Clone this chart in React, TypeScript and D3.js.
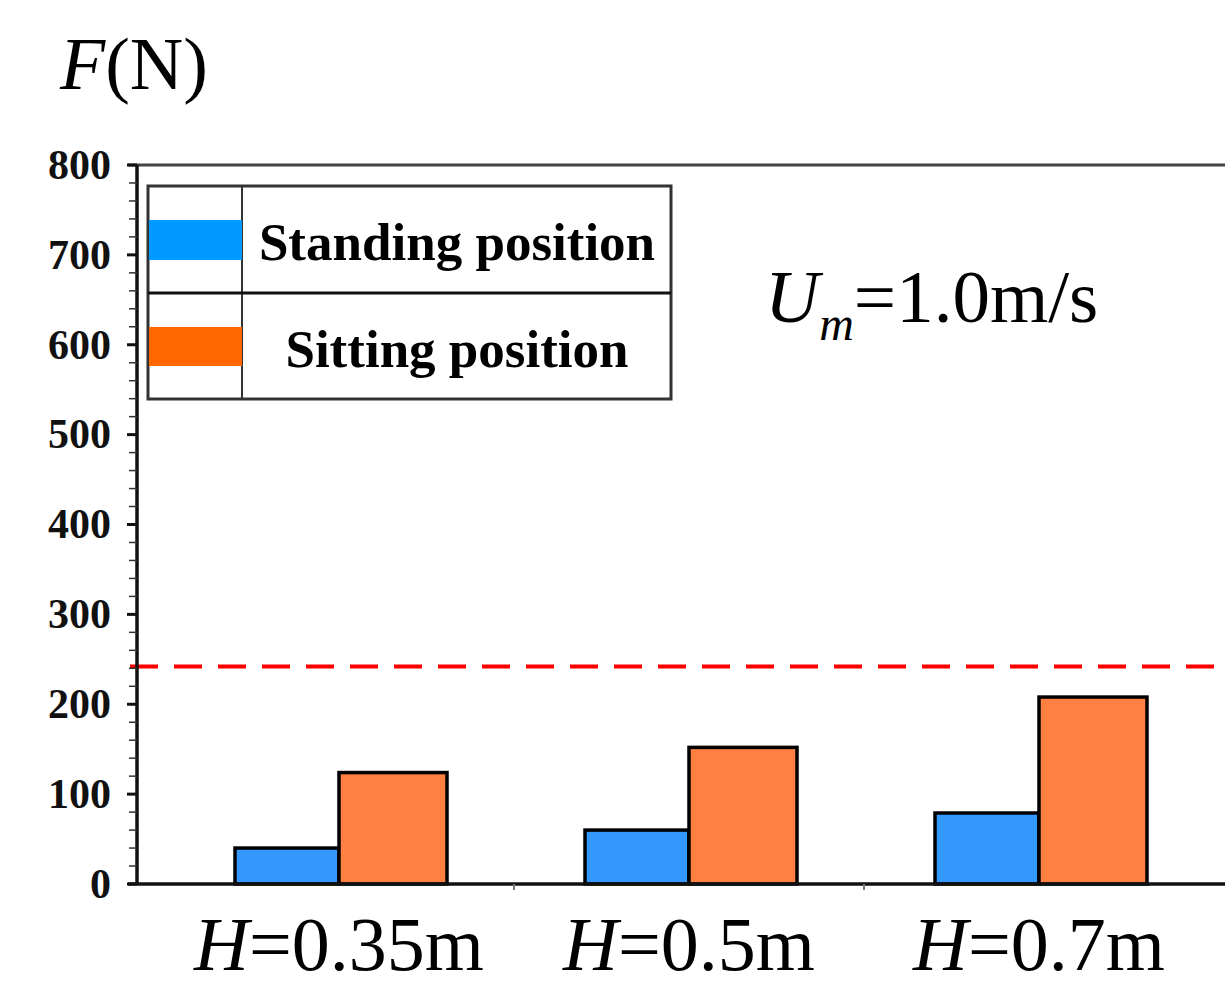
import React from "react";
import * as d3 from "d3";

const categories = ["0.35m", "0.5m", "0.7m"];
const standing = [40, 60, 79];
const sitting = [124, 152, 208];
const threshold = 242;
const yTicks = [0, 100, 200, 300, 400, 500, 600, 700, 800];
const legendLabels = ["Standing position", "Sitting position"];

const W = 1225;
const H = 985;
const serif = "'Liberation Serif', 'Times New Roman', serif";

const App: React.FC = () => {
  const left = 137;
  const top = 165;
  const bottom = 884;

  const y = d3.scaleLinear().domain([0, 800]).range([bottom, top]);
  const x = d3.scaleBand<string>().domain(categories).range([164, 1214]);
  const barW = 104;
  const minorTicks = d3.range(0, 801, 20).filter((v) => v % 100 !== 0);

  const blue = "#3399ff";
  const orange = "#ff8040";

  return (
    <svg
      width={W}
      height={H}
      style={{ position: "absolute", left: 0, top: 0, background: "#fff" }}
    >
      {/* y title */}
      <text x={60} y={89} fontFamily={serif} fontSize={74} fill="#000">
        <tspan fontStyle="italic">F</tspan>(N)
      </text>

      {/* top frame */}
      <line x1={128} x2={W} y1={top} y2={top} stroke="#444" strokeWidth={3} />

      {/* threshold line */}
      <line
        x1={130}
        x2={W}
        y1={y(threshold)}
        y2={y(threshold)}
        stroke="#ff0000"
        strokeWidth={4}
        strokeDasharray="28 16"
      />

      {/* bars */}
      {categories.map((c, i) => {
        const cx = x(c)! + x.bandwidth() / 2;
        return (
          <g key={c}>
            <rect
              x={cx - barW}
              y={y(standing[i])}
              width={barW}
              height={y(0) - y(standing[i])}
              fill={blue}
              stroke="#000"
              strokeWidth={3.5}
            />
            <rect
              x={cx}
              y={y(sitting[i])}
              width={barW + 4}
              height={y(0) - y(sitting[i])}
              fill={orange}
              stroke="#000"
              strokeWidth={3.5}
            />
          </g>
        );
      })}

      {/* x axis */}
      <line x1={128} x2={W} y1={bottom} y2={bottom} stroke="#111" strokeWidth={3.5} />
      {categories.slice(0, 2).map((c) => (
        <line
          key={c}
          x1={x(c)! + x.bandwidth()}
          x2={x(c)! + x.bandwidth()}
          y1={bottom}
          y2={bottom + 6}
          stroke="#777"
          strokeWidth={2}
        />
      ))}
      {categories.map((c) => (
        <text
          key={c}
          x={x(c)! + x.bandwidth() / 2}
          y={970}
          textAnchor="middle"
          fontFamily={serif}
          fontSize={76}
          fill="#000"
        >
          <tspan fontStyle="italic">H</tspan>={c}
        </text>
      ))}

      {/* y axis */}
      <line x1={left} x2={left} y1={top} y2={bottom} stroke="#111" strokeWidth={3.5} />
      {minorTicks.map((v) => (
        <line
          key={v}
          x1={left - 8}
          x2={left}
          y1={y(v)}
          y2={y(v)}
          stroke="#333"
          strokeWidth={1.5}
        />
      ))}
      {yTicks.map((v) => (
        <g key={v}>
          <line
            x1={left - 10}
            x2={left}
            y1={y(v)}
            y2={y(v)}
            stroke="#111"
            strokeWidth={3}
          />
          <text
            x={111}
            y={y(v)}
            dy="0.33em"
            textAnchor="end"
            fontFamily={serif}
            fontWeight="bold"
            fontSize={42}
            fill="#111"
          >
            {v}
          </text>
        </g>
      ))}

      {/* legend */}
      <g>
        <rect x={148} y={186} width={523} height={213} fill="#fff" stroke="#333" strokeWidth={3} />
        <line x1={242} x2={242} y1={186} y2={399} stroke="#333" strokeWidth={2} />
        <line x1={148} x2={671} y1={293} y2={293} stroke="#111" strokeWidth={3} />
        <rect x={149} y={220} width={93} height={40} fill="#0099ff" />
        <rect x={149} y={327} width={93} height={39} fill="#ff6600" />
        {legendLabels.map((l, i) => (
          <text
            key={l}
            x={457}
            y={i === 0 ? 260 : 367}
            textAnchor="middle"
            fontFamily={serif}
            fontWeight="bold"
            fontSize={53}
            fill="#000"
          >
            {l}
          </text>
        ))}
      </g>

      {/* annotation */}
      <text x={765} y={322} fontFamily={serif} fontSize={75} fill="#000">
        <tspan fontStyle="italic">U</tspan>
        <tspan fontStyle="italic" fontSize={48} dy={18}>m</tspan>
        <tspan dy={-18}>=1.0m/s</tspan>
      </text>
    </svg>
  );
};

export default App;
